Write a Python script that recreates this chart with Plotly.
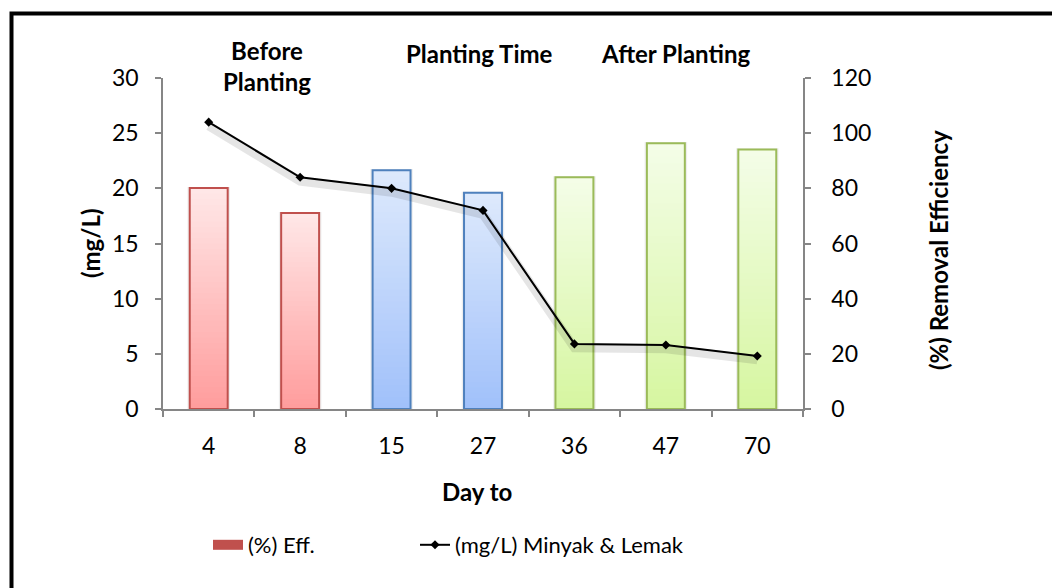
import plotly.graph_objects as go

days = ["4", "8", "15", "27", "36", "47", "70"]
eff_pct = [80.1, 71.1, 86.6, 78.4, 84.0, 96.3, 94.1]
oil_mgL = [26.0, 21.0, 20.0, 18.0, 5.9, 5.8, 4.8]
phase = ["before", "before", "planting", "planting", "after", "after", "after"]
phase_labels = ["Before<br>Planting", "Planting Time", "After Planting"]
left_ticks = [0, 5, 10, 15, 20, 25, 30]
right_ticks = [0, 20, 40, 60, 80, 100, 120]

FONT = "Lato"
top_col = {"before": (255, 232, 232), "planting": (222, 234, 252), "after": (244, 253, 232)}
bot_col = {"before": (255, 156, 156), "planting": (160, 192, 250), "after": (214, 246, 160)}
edge_col = {"before": "#C0504D", "planting": "#4F81BD", "after": "#9BBB59"}

L, R, T, B = 163, 249, 78, 179
W, H = 1052, 588
pw, ph = W - L - R, H - T - B

def px(x):
    return (x - L) / pw

def py(y):
    return (H - B - y) / ph

def mix(a, b, t):
    return "rgb(%d,%d,%d)" % tuple(round(a[i] + (b[i] - a[i]) * t) for i in range(3))

fig = go.Figure()
BW = 0.415
# bar shadow
fig.add_trace(go.Bar(x=days, y=[v * 1.005 for v in eff_pct], width=BW + 0.05,
                     marker=dict(color="rgba(0,0,0,0.07)", line=dict(width=0)),
                     yaxis="y", showlegend=False, hoverinfo="skip"))
N = 40
for i in range(N):
    f = 1 - i / N
    t = f - 0.5 / N
    cols = [mix(bot_col[p], top_col[p], t) for p in phase]
    fig.add_trace(go.Bar(x=days, y=[v * f for v in eff_pct], width=BW,
                         marker=dict(color=cols, line=dict(width=0)),
                         yaxis="y", showlegend=False, hoverinfo="skip"))
fig.add_trace(go.Bar(x=days, y=eff_pct, width=BW,
                     marker=dict(color="rgba(0,0,0,0)",
                                 line=dict(color=[edge_col[p] for p in phase], width=2)),
                     yaxis="y", showlegend=False))
# legend swatch for bars
fig.add_trace(go.Scatter(x=[None], y=[None], mode="lines", name="(%) Eff.",
                         line=dict(color="#C0504D", width=11), yaxis="y",
                         legend="legend"))
# line shadow
fig.add_trace(go.Scatter(x=days, y=[v - 0.35 for v in oil_mgL], mode="lines",
                         line=dict(color="rgba(0,0,0,0.10)", width=9),
                         yaxis="y2", showlegend=False, hoverinfo="skip"))
fig.add_trace(go.Scatter(x=days, y=oil_mgL, mode="lines+markers",
                         name="(mg/L) Minyak & Lemak",
                         line=dict(color="black", width=2),
                         marker=dict(symbol="diamond", size=7, color="black"),
                         yaxis="y2", legend="legend2"))

axis_common = dict(showgrid=False, zeroline=False, showline=True,
                   linecolor="#868686", linewidth=1.5, ticks="outside",
                   tickcolor="#868686", ticklen=6, tickwidth=1.5,
                   tickfont=dict(family=FONT, size=23, color="black"))

leg_common = dict(orientation="h", y=py(545), yanchor="middle", xanchor="left",
                  font=dict(family=FONT, size=22), bgcolor="rgba(0,0,0,0)")

fig.update_layout(
    width=W, height=H,
    margin=dict(l=L, r=R, t=T, b=B),
    plot_bgcolor="white", paper_bgcolor="white",
    barmode="overlay",
    font=dict(family=FONT, color="black"),
    xaxis=dict(type="category", tickson="boundaries", ticklabelstandoff=16,
               range=[-0.5, 6.5], **axis_common),
    yaxis=dict(side="right", range=[0, 120], tickvals=right_ticks,
               ticklabelstandoff=16, **axis_common),
    yaxis2=dict(side="left", overlaying="y", range=[0, 30], tickvals=left_ticks,
                ticklabelstandoff=12, **axis_common),
    legend=dict(x=px(208), **leg_common),
    legend2=dict(x=px(415), **leg_common),
    showlegend=True,
)

ann = [
    dict(text="<b>" + phase_labels[0] + "</b>", x=px(267), y=py(66)),
    dict(text="<b>" + phase_labels[1] + "</b>", x=px(479), y=py(54)),
    dict(text="<b>" + phase_labels[2] + "</b>", x=px(675), y=py(54)),
    dict(text="<b>Day to</b>", x=px(477), y=py(491)),
    dict(text="<b>(mg/L)</b>", x=px(90), y=py(243), textangle=-90),
    dict(text="<b>(%) Removal Efficiency</b>", x=px(938), y=py(250), textangle=-90),
]
for a in ann:
    fig.add_annotation(xref="paper", yref="paper", showarrow=False,
                       xanchor="center", yanchor="middle",
                       font=dict(family=FONT, size=24, color="black"), **a)

fig.add_shape(type="rect", xref="paper", yref="paper",
              x0=px(11.5), y0=py(610), x1=px(1070), y1=py(13.5),
              line=dict(color="black", width=4), layer="above")

fig.write_html("out.html", config={"displayModeBar": False},
               post_script="document.body.style.margin='0';")
